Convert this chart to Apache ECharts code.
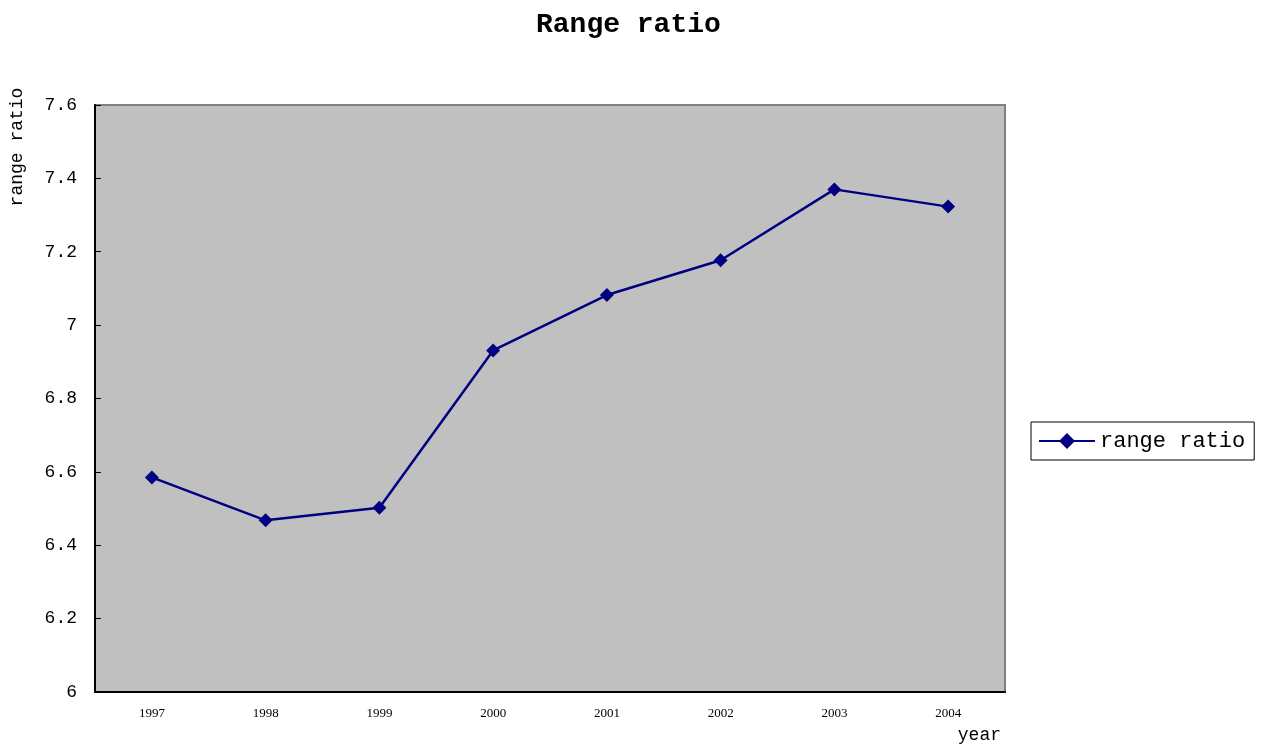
<!DOCTYPE html>
<html>
<head>
<meta charset="utf-8">
<script src="https://cdn.jsdelivr.net/npm/echarts@6/dist/echarts.min.js"></script>
<style>html,body{margin:0;padding:0;background:#fff;}#c{width:1267px;height:744px;}</style>
</head>
<body>
<div id="c"></div>
<script>
const categories = ['1997','1998','1999','2000','2001','2002','2003','2004'];
const rangeRatio = [6.585, 6.468, 6.502, 6.931, 7.082, 7.177, 7.370, 7.323];
const seriesName = 'range ratio';
const titleText = 'Range ratio';
const yAxisName = 'range ratio';
const xAxisName = 'year';

const mono = 'Liberation Mono';
const chart = echarts.init(document.getElementById('c'));
chart.setOption({
  animation: false,
  backgroundColor: '#ffffff',
  title: {
    text: titleText,
    left: 531, top: 6,
    textStyle: { fontFamily: mono, fontSize: 28, fontWeight: 'bold', color: '#000' }
  },
  legend: {
    data: [seriesName],
    left: 1031, top: 422,
    orient: 'vertical',
    borderColor: '#000', borderWidth: 1,
    padding: [8, 9, 8, 7],
    itemWidth: 56, itemHeight: 20,
    backgroundColor: '#fff',
    textStyle: { fontFamily: mono, fontSize: 22, color: '#000' }
  },
  grid: {
    left: 95, top: 105, width: 910, height: 587,
    show: true, backgroundColor: '#c0c0c0', borderColor: '#808080', borderWidth: 2
  },
  xAxis: {
    type: 'category',
    data: categories,
    boundaryGap: true,
    axisLine: { lineStyle: { color: '#000', width: 2 } },
    axisTick: { inside: true, length: 6, lineStyle: { color: '#000', width: 1 } },
    axisLabel: { margin: 15, fontFamily: 'Liberation Serif', fontSize: 13, color: '#000' },
    splitLine: { show: false }
  },
  yAxis: {
    type: 'value',
    min: 6, max: 7.6, interval: 0.2,
    axisLine: { show: true, lineStyle: { color: '#000', width: 2 } },
    axisTick: { show: true, inside: true, length: 6, lineStyle: { color: '#000', width: 1 } },
    axisLabel: { margin: 18, fontFamily: mono, fontSize: 18, color: '#000',
      formatter: v => String(Math.round(v * 10) / 10) },
    splitLine: { show: false }
  },
  graphic: [
    { type: 'text', x: 17, y: 147, rotation: Math.PI / 2,
      style: { text: yAxisName, fontFamily: mono, fontSize: 18, fill: '#000', align: 'center', verticalAlign: 'middle' } },
    { type: 'text', x: 1001, y: 735,
      style: { text: xAxisName, fontFamily: mono, fontSize: 18, fill: '#000', align: 'right', verticalAlign: 'middle' } }
  ],
  series: [{
    name: seriesName,
    type: 'line',
    data: rangeRatio,
    symbol: 'diamond',
    symbolSize: 14,
    showAllSymbol: true,
    lineStyle: { color: '#000080', width: 2.5 },
    itemStyle: { color: '#000080' }
  }]
});
</script>
</body>
</html>
